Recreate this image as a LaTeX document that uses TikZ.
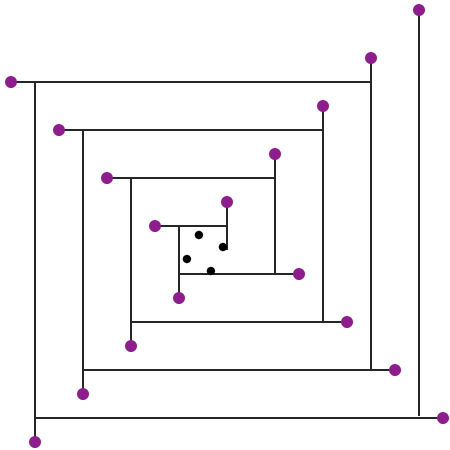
\documentclass[tikz,border=0pt]{standalone}
\usepackage{tikz}

\definecolor{spiralpurple}{RGB}{142,30,142}

\begin{document}
\begin{tikzpicture}[x=0.5cm,y=-0.5cm,
    seg/.style={line width=0.8pt,black!85},
    enddot/.style={fill=spiralpurple},
    innerdot/.style={fill=black}]
  \useasboundingbox (-0.4583,-0.4167) rectangle (18.2917,18.3333);
  % each arm: free end (with a dot) -- where it meets the next arm
  \foreach \sx/\sy/\ex/\ey in {0/3/15/3, 15/2/15/15, 16/15/3/15, 3/16/3/5,
      2/5/13/5, 13/4/13/13, 14/13/5/13, 5/14/5/7,
      4/7/11/7, 11/6/11/11, 12/11/7/11, 7/12/7/9,
      6/9/9/9, 9/8/9/10,
      18/17/1/17, 1/18/1/3, 17/0/17/16.9}
    {
      \draw[seg] (\sx,\sy) -- (\ex,\ey);
      \fill[enddot] (\sx,\sy) circle (0.25);
    }
  % the four dots in the middle
  \foreach \px/\py in {7.83/9.375, 8.83/9.875, 7.33/10.375, 8.33/10.875}
    \fill[innerdot] (\px,\py) circle (0.18);
\end{tikzpicture}
\end{document}
